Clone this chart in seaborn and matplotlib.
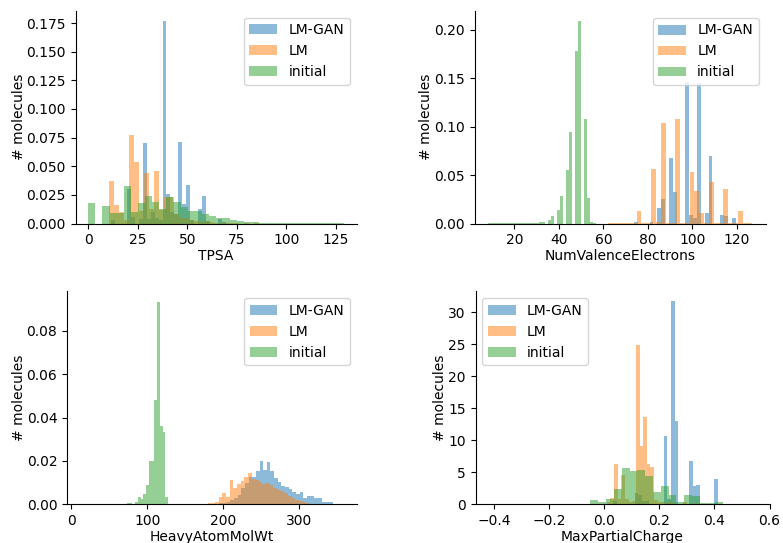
import numpy as np
import pandas as pd
import matplotlib
matplotlib.use("Agg")
import matplotlib.pyplot as plt
from matplotlib.patches import Patch
import seaborn as sns

# ---- series -------------------------------------------------------------
series_labels = ["LM-GAN", "LM", "initial"]
series_colors = ["tab:blue", "tab:orange", "tab:green"]

# TPSA: bin range and per-bin density for each series
tpsa_gan_range = (9.5, 69.5)
tpsa_gan = [0, 0.003, 0, 0, 0, 0.030, 0.006, 0, 0.004, 0.070, 0.004, 0.010, 0.005, 0.003,
            0.177, 0.026, 0.010, 0.008, 0.071, 0.017, 0.0335, 0.003, 0, 0.0125, 0.024,
            0.002, 0, 0, 0.004, 0.001]
tpsa_lm_range = (10.5, 86.4)
tpsa_lm = [0.037, 0.016, 0.010, 0.003, 0.077, 0.0535, 0.011, 0.044, 0.013, 0.0457, 0.012,
           0.023, 0.023, 0.008, 0.005, 0.005, 0.003, 0.002, 0.001, 0.002, 0.001, 0.0008,
           0.0005, 0.0005, 0.0003, 0.0003, 0, 0.0002, 0, 0.0002]
tpsa_init_range = (0.0, 129.0)
tpsa_init = [0.018, 0, 0.015, 0.009, 0.009, 0.0325, 0.010, 0.018, 0.024, 0.019, 0.0125,
             0.0227, 0.0186, 0.014, 0.011, 0.011, 0.0087, 0.0064, 0.005, 0.0044, 0.003,
             0.0023, 0.0015, 0.0012, 0.0008, 0.0005, 0.0003, 0.0003, 0.0002, 0.0002,
             0.0001, 0.0001, 0.0001, 0.0001, 0.0001, 0.0001]

# NumValenceElectrons
nve_gan_range = (73.69, 121.48)
nve_gan = [0.002, 0, 0, 0, 0.002, 0, 0.0165, 0.025, 0, 0.068, 0.0323, 0, 0, 0.146, 0.009,
           0.006, 0.1447, 0, 0.011, 0.0694, 0, 0, 0.009, 0.008, 0, 0.006, 0]
nve_lm_range = (62.0, 127.0)
nve_lm = [0.0003, 0.0003, 0.0003, 0.0003, 0.0003, 0.0005, 0.013, 0.0003, 0.001, 0.056, 0.002,
          0.1034, 0.001, 0.0003, 0.1075, 0.001, 0.0003, 0.053, 0.034, 0.011, 0.001, 0.0426,
          0.001, 0.0003, 0.0354, 0.001, 0.0003, 0.013, 0.0003, 0.0005]
nve_init_range = (8.0, 56.6)
nve_init = [0.0007, 0.0003, 0.0003, 0.0003, 0.0003, 0.0003, 0.0003, 0.0003, 0.0003, 0.0004,
            0.0003, 0.0004, 0.0004, 0.0003, 0.0005, 0.0005, 0.0003, 0.0015, 0.0015, 0,
            0.0034, 0.0075, 0, 0.0137, 0.028, 0, 0.055, 0.094, 0, 0.178, 0.209, 0, 0.108,
            0.026, 0.002, 0.0005]

# HeavyAtomMolWt
hamw_gan_range = (194.9, 358.1)
hamw_gan = [0.0004, 0.0006, 0.0010, 0.0018, 0.0030, 0.0045, 0.0075, 0.0100, 0.0128, 0.0125,
            0.0154, 0.0200, 0.0158, 0.0194, 0.0154, 0.0120, 0.0105, 0.0086, 0.0082, 0.0070,
            0.0055, 0.0046, 0.0058, 0.0028, 0.0040, 0.0040, 0.0028, 0.0030, 0.0010, 0.0012,
            0.0010, 0.0002, 0, 0.0002]
hamw_lm_range = (179.6, 323.6)
hamw_lm = [0.0007, 0.0007, 0.0012, 0.0032, 0.0054, 0.0032, 0.0112, 0.0074, 0.0092, 0.0108,
           0.0128, 0.0146, 0.0115, 0.0112, 0.0105, 0.0095, 0.0100, 0.0088, 0.0075, 0.0068,
           0.0060, 0.0050, 0.0040, 0.0030, 0.0022, 0.0015, 0.0010, 0.0006, 0.0003, 0.0002]
hamw_init_range = (12.0, 127.5)
hamw_init = [0.0003, 0, 0, 0, 0, 0, 0.0001, 0, 0, 0.0001, 0, 0, 0.0001, 0, 0.0001, 0.0001,
             0.0002, 0.0005, 0.0005, 0.0003, 0.001, 0.0032, 0.0026, 0.0048, 0.0088, 0.020,
             0.020, 0.048, 0.0934, 0.036, 0.0332, 0.0032]

# MaxPartialCharge
mpc_gan_range = (0.005, 0.413)
mpc_gan = [0, 0, 0.5, 0, 0, 0, 0, 0, 1.7, 1.5, 0.5, 0.5, 0, 0, 0, 0, 10.7, 0.9, 31.7, 13.0,
           0, 0, 0, 6.8, 2.9, 3.0, 0, 0, 0, 0, 4.0]
mpc_lm_range = (-0.0048, 0.393)
mpc_lm = [0, 0.3, 1.0, 6.3, 0.9, 4.6, 0.8, 0.3, 0.5, 24.9, 9.1, 13.7, 6.3, 5.9, 0.7, 0.3,
          0.3, 0.2, 0.5, 0.2, 0, 0, 0.3, 0, 0, 0.2, 0, 0, 0, 0.1]
mpc_init_range = (-0.4198, 0.5458)
mpc_init = [0.05, 0, 0, 0, 0, 0, 0, 0, 0, 0, 0, 0, 0, 0.7, 0.35, 0.9, 2.4, 5.7, 5.25, 5.4,
            4.4, 1.9, 2.9, 1.5, 0.4, 1.5, 1.35, 0.2, 0.2, 0.35, 0, 0, 0, 0.05]

panels = [
    ("TPSA", [(tpsa_gan_range, tpsa_gan), (tpsa_lm_range, tpsa_lm), (tpsa_init_range, tpsa_init)]),
    ("NumValenceElectrons", [(nve_gan_range, nve_gan), (nve_lm_range, nve_lm), (nve_init_range, nve_init)]),
    ("HeavyAtomMolWt", [(hamw_gan_range, hamw_gan), (hamw_lm_range, hamw_lm), (hamw_init_range, hamw_init)]),
    ("MaxPartialCharge", [(mpc_gan_range, mpc_gan), (mpc_lm_range, mpc_lm), (mpc_init_range, mpc_init)]),
]

# ---- figure -------------------------------------------------------------
W, H = 783, 543
fig = plt.figure(figsize=(W / 100, H / 100), dpi=100)

# axes boxes in pixels: left, right, top, bottom
boxes = [
    (75.5, 356.5, 10.6, 223.5),
    (474.5, 765.5, 11.0, 223.5),
    (67.0, 356.7, 291.5, 504.3),
    (475.5, 769.5, 291.3, 504.3),
]

xticks = [np.arange(0, 126, 25), np.arange(20, 121, 20), np.arange(0, 301, 100),
          np.round(np.arange(-0.4, 0.61, 0.2), 1)]
yticks = [np.arange(0, 0.176, 0.025), np.arange(0, 0.201, 0.05), np.arange(0, 0.081, 0.02),
          np.arange(0, 31, 5)]
yfmt = ["{:.3f}", "{:.2f}", "{:.2f}", "{:.0f}"]
legend_loc = ["upper right", "upper right", "upper right", "upper left"]


def draw_hist(ax, value_range, heights, color):
    heights = np.asarray(heights, dtype=float)
    edges = np.linspace(value_range[0], value_range[1], len(heights) + 1)
    table = pd.DataFrame({"value": (edges[:-1] + edges[1:]) / 2, "density": heights})
    sns.histplot(data=table, x="value", weights="density", bins=list(edges), stat="count",
                 ax=ax, color=color, alpha=0.5, linewidth=0)


for i, (name, series) in enumerate(panels):
    l, r, t, b = boxes[i]
    ax = fig.add_axes([l / W, 1 - b / H, (r - l) / W, (b - t) / H])
    for (rng, vals), color in zip(series, series_colors):
        draw_hist(ax, rng, vals, color)
    ax.set_xticks(xticks[i])
    ax.set_yticks(yticks[i])
    ax.set_yticklabels([yfmt[i].format(v) for v in yticks[i]])
    if i == 3:
        ax.set_xticklabels([f"{v:.1f}".replace("-", "\u2212") for v in xticks[i]])
    ax.set_xlabel(name, labelpad=1.5)
    ax.set_ylabel("# molecules", labelpad=0.5)
    sns.despine(ax=ax)
    handles = [Patch(facecolor=c, alpha=0.5, edgecolor="none", label=lab)
               for c, lab in zip(series_colors, series_labels)]
    ax.legend(handles=handles, loc=legend_loc[i])

fig.savefig("out.png", dpi=100)
